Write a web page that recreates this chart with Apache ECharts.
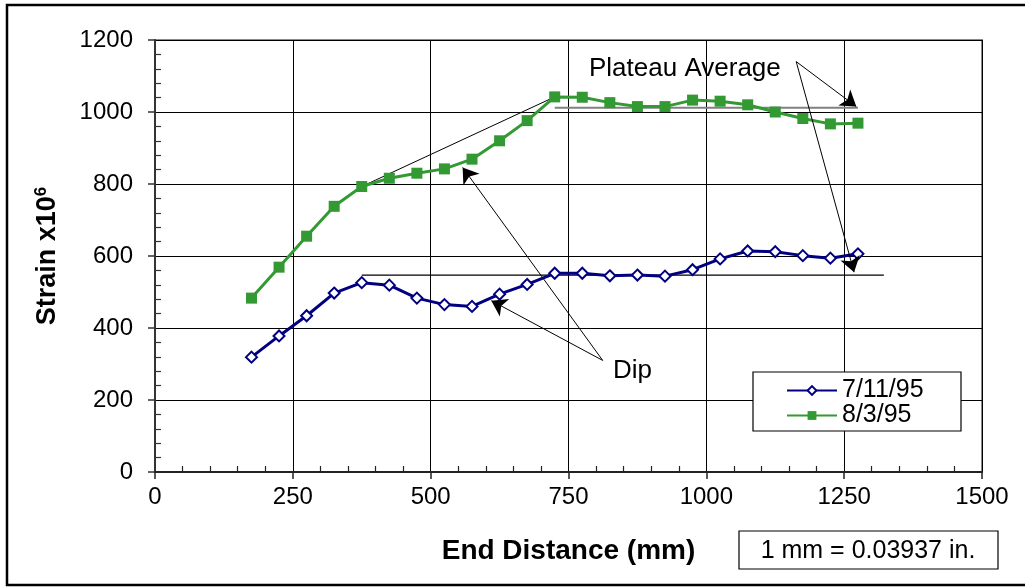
<!DOCTYPE html>
<html>
<head>
<meta charset="utf-8">
<script src="https://cdn.jsdelivr.net/npm/echarts@6/dist/echarts.min.js"></script>
<style>
  html, body { margin: 0; padding: 0; background: #fff; }
  #main { width: 1025px; height: 587px; }
</style>
</head>
<body>
<div id="main"></div>
<script>
// end distance (mm)
var distances = [175, 225, 275, 325, 375, 425, 475, 525, 575, 625, 675, 725,
  775, 825, 875, 925, 975, 1025, 1075, 1125, 1175, 1225, 1275];
// strain x10^6
var strain0711 = [319, 378, 434, 497, 526, 519, 483, 465, 460, 494, 521, 552,
  552, 545, 547, 544, 562, 592, 614, 612, 601, 594, 606];
var strain0803 = [483, 569, 655, 738, 793, 816, 830, 842, 869, 920, 976, 1042,
  1041, 1026, 1015, 1015, 1033, 1030, 1020, 1000, 982, 967, 969];
var seriesNames = ['7/11/95', '8/3/95'];

// annotation lines, in data units
var plateau0803 = [[725, 1012], [1275, 1012]];
var plateau0711 = [[375, 547], [1322, 547]];
var tangent0803 = [[375, 793], [725, 1042]];
var plateauArrows = [
  [[1163, 1140], [1272, 1015]],
  [[1163, 1140], [1268, 555]]
];
var dipArrows = [
  [[812, 310], [558, 846]],
  [[812, 310], [610, 476]]
];

var FONT = '"Liberation Sans", Arial, sans-serif';

function pairs(xs, ys) {
  var out = [];
  for (var i = 0; i < xs.length; i++) out.push([xs[i], ys[i]]);
  return out;
}
function plain(v) { return String(v); }

var chart = echarts.init(document.getElementById('main'), null, { renderer: 'canvas' });

var option = {
  backgroundColor: '#fff',
  animation: false,
  textStyle: { fontFamily: FONT },
  grid: {
    left: 155, right: 43, top: 40, bottom: 115,
    show: true, borderColor: '#888', borderWidth: 2, backgroundColor: 'transparent'
  },
  legend: {
    left: 786, top: 378, orient: 'vertical', padding: 0, itemGap: 0,
    itemWidth: 50, itemHeight: 11, z: 20,
    data: seriesNames,
    textStyle: { fontSize: 25, color: '#000', fontFamily: FONT, lineHeight: 23 }
  },
  xAxis: [
    {
      type: 'value', min: 0, max: 1500, interval: 250, position: 'bottom',
      name: 'End Distance (mm)', nameLocation: 'middle', nameGap: 65,
      nameTextStyle: { fontSize: 28, fontWeight: 'bold', color: '#000', fontFamily: FONT },
      axisLine: { lineStyle: { color: '#222', width: 2 } },
      axisTick: { show: true, inside: false, length: 7, lineStyle: { color: '#222', width: 1.5 } },
      axisLabel: { fontSize: 24, color: '#000', margin: 13, fontFamily: FONT, formatter: plain },
      splitLine: { show: true, lineStyle: { color: '#000', width: 1 } },
      minorTick: { show: false }
    },
    {
      type: 'value', min: 0, max: 1500, interval: 250, position: 'bottom',
      axisLine: { show: false },
      axisTick: { show: false, inside: true },
      axisLabel: { show: false },
      splitLine: { show: false },
      minorTick: { show: true, splitNumber: 5, length: 6, lineStyle: { color: '#222', width: 1.2 } }
    }
  ],
  yAxis: [
    {
      type: 'value', min: 0, max: 1200, interval: 200, position: 'left',
      name: '{a|Strain x10}{b|6}', nameLocation: 'middle', nameGap: 92, nameRotate: 90,
      nameTextStyle: {
        color: '#000', fontFamily: FONT,
        rich: {
          a: { fontSize: 27, fontWeight: 'bold', fontFamily: FONT, color: '#000', lineHeight: 30 },
          b: { fontSize: 17, fontWeight: 'bold', fontFamily: FONT, color: '#000', verticalAlign: 'top', lineHeight: 30 }
        }
      },
      axisLine: { lineStyle: { color: '#333', width: 2 } },
      axisTick: { show: true, inside: false, length: 7, lineStyle: { color: '#333', width: 1.5 } },
      axisLabel: { fontSize: 24, color: '#000', margin: 22, fontFamily: FONT, formatter: plain },
      splitLine: { show: true, lineStyle: { color: '#000', width: 1 } },
      minorTick: { show: false }
    },
    {
      type: 'value', min: 0, max: 1200, interval: 200, position: 'left',
      axisLine: { show: false },
      axisTick: { show: false, inside: true },
      axisLabel: { show: false },
      splitLine: { show: false },
      minorTick: { show: true, splitNumber: 5, length: 6, lineStyle: { color: '#333', width: 1.2 } }
    }
  ],
  series: [
    {
      name: 'plateau-0803', type: 'line', data: plateau0803, symbol: 'none',
      lineStyle: { color: '#808080', width: 2 }, silent: true, z: 1
    },
    {
      name: 'plateau-0711', type: 'line', data: plateau0711, symbol: 'none',
      lineStyle: { color: '#000', width: 1.2 }, silent: true, z: 1
    },
    {
      name: 'tangent-0803', type: 'line', data: tangent0803, symbol: 'none',
      lineStyle: { color: '#000', width: 1 }, silent: true, z: 1
    },
    {
      name: seriesNames[0], type: 'line', data: pairs(distances, strain0711),
      symbol: 'emptyDiamond', symbolSize: 11,
      lineStyle: { color: '#000080', width: 3 },
      itemStyle: { color: '#000080', borderColor: '#000080', borderWidth: 2.5 },
      z: 3
    },
    {
      name: seriesNames[1], type: 'line', data: pairs(distances, strain0803),
      symbol: 'rect', symbolSize: 11,
      lineStyle: { color: '#339933', width: 3 },
      itemStyle: { color: '#339933' },
      z: 3
    },
    {
      name: 'arrows', type: 'lines', coordinateSystem: 'cartesian2d',
      xAxisIndex: 0, yAxisIndex: 0,
      symbol: ['none', 'arrow'], symbolSize: [0, 15],
      lineStyle: { color: '#000', width: 1, opacity: 1, curveness: 0 },
      data: plateauArrows.concat(dipArrows).map(function (c) { return { coords: c }; }),
      silent: true, z: 4
    }
  ],
  graphic: [
    {
      type: 'polyline', silent: true,
      shape: { points: [[1035, 5], [7, 5], [7, 585], [1035, 585]] },
      style: { stroke: '#000', lineWidth: 2.5, fill: null }, z: 100
    },
    {
      type: 'rect', silent: true,
      shape: { x: 753, y: 372, width: 208, height: 59 },
      style: { stroke: '#000', lineWidth: 1.2, fill: '#fff' }, z: 5
    },
    {
      type: 'rect', silent: true,
      shape: { x: 739, y: 531, width: 259, height: 38 },
      style: { stroke: '#000', lineWidth: 1.2, fill: '#fff' }, z: 5
    },
    {
      type: 'text', silent: true, z: 6,
      style: { text: '1 mm = 0.03937 in.', x: 868, y: 551, align: 'center', verticalAlign: 'middle',
        font: '25px ' + FONT, fill: '#000' }
    },
    {
      type: 'text', silent: true, z: 6,
      style: { text: 'Plateau Average', x: 589, y: 69, align: 'left', verticalAlign: 'middle',
        font: '26px ' + FONT, fill: '#000' }
    },
    {
      type: 'text', silent: true, z: 6,
      style: { text: 'Dip', x: 613, y: 371, align: 'left', verticalAlign: 'middle',
        font: '26px ' + FONT, fill: '#000' }
    }
  ]
};

chart.setOption(option);
</script>
</body>
</html>
